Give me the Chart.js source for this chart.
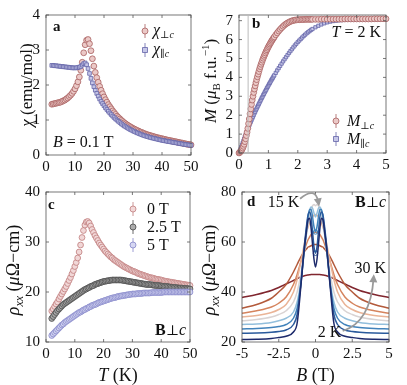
<!DOCTYPE html>
<html><head><meta charset="utf-8">
<script src="https://cdn.jsdelivr.net/npm/chart.js@4.4.1/dist/chart.umd.min.js"></script>
<style>
html,body{margin:0;padding:0;background:#fff;}
#wrap{position:relative;width:407px;height:385px;}
canvas{position:absolute;left:0;top:0;}
</style></head><body>
<div id="wrap">
<canvas id="ca" width="407" height="385"></canvas>
<canvas id="cb" width="407" height="385"></canvas>
<canvas id="cc" width="407" height="385"></canvas>
<canvas id="cd" width="407" height="385"></canvas>
</div>
<script>
// ---- panel a : susceptibility vs T (B = 0.1 T) ----
const tempK = [2,2.5,3,3.5,4,4.5,5,5.5,6,6.5,7,7.5,8,8.5,9,9.5,10,10.5,11,11.5,12,12.5,13,13.5,14,14.5,15,15.5,16,16.5,17,17.5,18,18.5,19,19.5,20,
  20.5,21,21.5,22,22.5,23,23.5,24,24.5,25,25.5,26,26.5,27,27.5,28,28.5,29,29.5,30,
  30.5,31,31.5,32,32.5,33,33.5,34,34.5,35,35.5,36,36.5,37,37.5,38,38.5,39,39.5,40,
  40.5,41,41.5,42,42.5,43,43.5,44,44.5,45,45.5,46,46.5,47,47.5,48,48.5,49,49.5,50];
const chiPerp = [1.45,1.46,1.47,1.48,1.49,1.50,1.51,1.53,1.55,1.57,1.60,1.63,1.67,1.71,1.76,1.82,1.89,1.98,2.09,2.23,
  2.42,2.65,2.92,3.15,3.28,3.30,3.18,2.98,2.75,2.54,2.36,2.21,2.08,1.96,1.85,1.75,1.66,
  1.58,1.51,1.44,1.38,1.32,1.26,1.21,1.16,1.11,1.07,
  1.03,0.99,0.955,0.92,0.89,0.86,0.835,0.81,0.785,0.76,
  0.74,0.72,0.70,0.68,0.66,0.645,0.627,0.61,0.595,0.58,
  0.567,0.555,0.542,0.53,0.517,0.505,0.495,0.485,0.475,0.465,
  0.455,0.445,0.435,0.425,0.418,0.41,0.40,0.39,0.382,0.375,
  0.365,0.355,0.348,0.34,0.33,0.32,0.312,0.305,0.297,0.29];
const chiPar = [2.56,2.56,2.55,2.55,2.54,2.54,2.53,2.53,2.52,2.52,2.51,2.51,2.50,2.50,2.49,2.49,2.49,2.49,2.50,2.51,
  2.53,2.57,2.61,2.63,2.58,2.47,2.33,2.19,2.06,1.95,1.85,1.76,1.68,1.60,1.53,1.47,1.41,
  1.35,1.30,1.25,1.20,1.155,1.11,1.07,1.03,0.995,0.96,
  0.925,0.89,0.86,0.83,0.805,0.78,0.755,0.73,0.71,0.69,
  0.67,0.65,0.632,0.615,0.597,0.58,0.565,0.55,0.537,0.525,
  0.512,0.50,0.49,0.48,0.47,0.46,0.45,0.44,0.43,0.42,
  0.412,0.405,0.397,0.39,0.382,0.375,0.367,0.36,0.352,0.345,
  0.337,0.33,0.322,0.315,0.307,0.30,0.295,0.29,0.282,0.275];
const aTicksX = [0,10,20,30,40,50];
const aTicksY = [0,1,2,3,4];

// ---- panel b : magnetisation vs B (T = 2 K) ----
const fieldB = [0,0.025,0.05,0.075,0.1,0.125,0.15,0.175,0.2,0.225,0.25,0.275,0.3,0.325,0.35,0.375,0.4,0.425,0.45,0.475,
  0.5,0.525,0.55,0.575,0.6,0.625,0.65,0.675,0.7,0.725,0.75,0.775,0.8,0.825,0.85,0.875,0.9,0.925,0.95,0.975,
  1,1.025,1.05,1.075,1.1,1.125,1.15,1.175,1.2,
  1.25,1.3,1.35,1.4,1.45,1.5,1.55,1.6,1.65,1.7,1.75,1.8,1.85,1.9,1.95,2,2.05,2.1,2.15,2.2,2.25,2.3,2.35,2.4,2.45,2.5,
  2.6,2.7,2.8,2.9,3,3.1,3.2,3.3,3.4,3.5,3.6,3.7,3.8,3.9,4,4.1,4.2,4.3,4.4,4.5,4.6,4.7,4.8,4.9,5];
const mPerp = [0,0.03,0.07,0.12,0.18,0.26,0.35,0.46,0.6,0.75,0.92,1.1,1.3,1.55,1.8,2.07,2.33,2.57,2.8,3.0,
  3.2,3.38,3.55,3.72,3.88,4.03,4.17,4.31,4.45,4.57,4.69,4.8,4.91,5.01,5.11,5.2,5.29,5.38,5.46,5.54,
  5.62,5.69,5.76,5.83,5.9,5.96,6.02,6.08,6.14,
  6.25,6.35,6.45,6.54,6.62,6.7,6.77,6.83,6.88,6.92,6.96,6.99,7.01,7.03,7.04,7.05,7.05,7.06,7.06,7.06,7.07,7.07,7.07,7.07,7.07,7.07,
  7.07,7.07,7.08,7.08,7.08,7.08,7.08,7.08,7.08,7.08,7.09,7.09,7.09,7.09,7.09,7.09,7.09,7.09,7.09,7.09,7.1,7.1,7.1,7.1,7.1];
const mPar = [0,0.1,0.2,0.31,0.42,0.53,0.64,0.75,0.86,0.96,1.06,1.16,1.26,1.36,1.46,1.56,1.65,1.74,1.83,1.92,
  2.01,2.1,2.18,2.27,2.35,2.43,2.51,2.59,2.67,2.75,2.83,2.91,2.98,3.06,3.13,3.21,3.28,3.35,3.43,3.5,
  3.57,3.64,3.71,3.78,3.85,3.91,3.98,4.05,4.11,
  4.24,4.37,4.49,4.61,4.73,4.85,4.96,5.07,5.18,5.29,5.39,5.49,5.59,5.69,5.78,5.87,5.95,6.03,6.11,6.19,6.26,6.33,6.39,6.45,6.51,6.56,
  6.65,6.73,6.8,6.86,6.91,6.95,6.98,7.0,7.02,7.03,7.04,7.05,7.05,7.06,7.06,7.06,7.07,7.07,7.07,7.07,7.07,7.08,7.08,7.08,7.08];
const bTicksX = [0,1,2,3,4,5];
const bTicksY = [0,1,2,3,4,5,6,7];
const bMarkerField = 0.31;

// ---- panel c : rho_xx vs T at fixed fields ----
const rho0T = [16.2,16.6,17.1,17.6,18.0,18.6,19.1,19.6,20.1,20.6,21.1,21.7,22.3,22.9,23.6,24.3,25.1,25.9,26.8,28.0,
  29.4,30.9,32.3,33.4,34.0,34.1,33.8,33.2,32.5,31.9,31.3,30.8,30.3,29.8,29.4,29.0,28.6,
  28.2,27.9,27.6,27.3,27.0,26.8,26.5,26.3,26.1,25.9,
  25.7,25.5,25.3,25.1,24.95,24.8,24.65,24.5,24.35,24.2,
  24.1,24.0,23.85,23.7,23.6,23.5,23.4,23.3,23.2,23.1,
  23.0,22.9,22.85,22.8,22.7,22.6,22.55,22.5,22.45,22.4,
  22.3,22.2,22.15,22.1,22.05,22.0,21.95,21.9,21.85,21.8,
  21.75,21.7,21.65,21.6,21.55,21.5,21.45,21.4,21.35,21.3];
const rho25T = [14.7,15.1,15.5,15.9,16.3,16.6,16.9,17.2,17.5,17.7,17.9,18.1,18.3,18.5,18.7,18.9,19.1,19.3,19.5,19.7,
  19.9,20.1,20.3,20.5,20.6,20.8,20.9,21.1,21.2,21.3,21.5,21.6,21.7,21.8,21.9,22.0,22.1,
  22.15,22.2,22.25,22.3,22.35,22.4,22.4,22.4,22.4,22.4,
  22.4,22.4,22.35,22.3,22.25,22.2,22.15,22.1,22.05,22.0,
  21.95,21.9,21.85,21.8,21.75,21.7,21.65,21.6,21.55,21.5,
  21.5,21.5,21.45,21.4,21.35,21.3,21.3,21.3,21.25,21.2,
  21.15,21.1,21.1,21.1,21.05,21.0,20.95,20.9,20.9,20.9,
  20.85,20.8,20.8,20.8,20.75,20.7,20.7,20.7,20.65,20.6];
const rho5T = [11.3,11.6,11.9,12.2,12.5,12.8,13.1,13.4,13.6,13.9,14.1,14.3,14.5,14.7,14.9,15.1,15.3,15.5,15.7,15.9,
  16.0,16.2,16.4,16.5,16.7,16.8,17.0,17.1,17.3,17.4,17.5,17.6,17.8,17.9,18.0,18.1,18.2,
  18.3,18.4,18.5,18.6,18.7,18.8,18.85,18.9,19.0,19.1,
  19.15,19.2,19.25,19.3,19.35,19.4,19.45,19.5,19.55,19.6,
  19.6,19.6,19.65,19.7,19.7,19.7,19.75,19.8,19.8,19.8,
  19.8,19.8,19.85,19.9,19.9,19.9,19.9,19.9,19.9,19.9,
  19.95,20.0,20.0,20.0,20.0,20.0,20.0,20.0,20.0,20.0,
  20.0,20.0,20.0,20.0,20.0,20.0,20.0,20.0,20.0,20.0];
const cTicksX = [0,10,20,30,40,50];
const cTicksY = [10,20,30,40];

// ---- panel d : rho_xx vs B at several temperatures ----
const fieldD = [-5,-4,-3,-2.5,-2,-1.5,-1.25,-1,-0.8,-0.6,-0.5,-0.4,-0.3,-0.2,-0.1,0,0.1,0.2,0.3,0.4,0.5,0.6,0.8,1,1.25,1.5,2,2.5,3,4,5];
const dLabels = ['2 K','5 K','10 K','12.5 K','15 K','17.5 K','20 K','25 K','30 K'];
const dColors = ['#1d2a6b','#2a5a9c','#4283bb','#93bfdc','#d9d3d3','#eab497','#d5845e','#b35a3b','#80262e'];
const rhoB = [
  [21,21.1,21.4,21.8,22.3,24,27.5,42,55,65,69,69.5,65.5,59,53,50,53,59,65.5,69.5,69,65,55,42,27.5,24,22.3,21.8,21.4,21.1,21],
  [23.5,23.6,23.9,24.2,24.8,27,31,43,56,67,71,72,70,64,58,55.5,58,64,70,72,71,67,56,43,31,27,24.8,24.2,23.9,23.6,23.5],
  [25.2,25.4,25.8,26.2,27,29.5,33.5,43,55,66,70.5,73,73,70,66,64,66,70,73,73,70.5,66,55,43,33.5,29.5,27,26.2,25.8,25.4,25.2],
  [27,27.2,27.8,28.5,29.5,32,36,44,54,64,68.5,72.5,74,73.5,71.5,70,71.5,73.5,74,72.5,68.5,64,54,44,36,32,29.5,28.5,27.8,27.2,27],
  [28.5,29,30,31,32.5,36,40,47,55,64,67.5,71,73,74.5,75,74.5,75,74.5,73,71,67.5,64,55,47,40,36,32.5,31,30,29,28.5],
  [30,30.6,31.8,33,35,40,45,52,58,64,66,67.5,69,70,70.8,71,70.8,70,69,67.5,66,64,58,52,45,40,35,33,31.8,30.6,30],
  [31.5,32.5,34,35.5,38,43,47,52,56,59.5,61,62,63,63.5,63.8,64,63.8,63.5,63,62,61,59.5,56,52,47,43,38,35.5,34,32.5,31.5],
  [33.5,35,37.5,40,43,48,51,54,55.8,57.3,58,58.2,58.5,58.8,59,59,59,58.8,58.5,58.2,58,57.3,55.8,54,51,48,43,40,37.5,35,33.5],
  [37.8,39,40.6,41.8,43.2,44.6,45.3,46,46.4,46.7,46.8,46.9,47,47,47,47,47,47,47,46.9,46.8,46.7,46.4,46,45.3,44.6,43.2,41.8,40.6,39,37.8]
];
const dCircled = [1, 2];   // curves with an open marker at B = 0
const dTicksX = [-5,-2.5,0,2.5,5];
const dTicksY = [20,40,60,80];

// ------------------------------------------------------------
const SERIF = "'Liberation Serif', 'DejaVu Serif', serif";
const fnt = (size, style) => (style ? style + ' ' : '') + size + 'px ' + SERIF;
const INK = '#111';

function drawRich(ctx, parts, x, y, align, rot) {
  ctx.save();
  ctx.translate(x, y);
  if (rot) ctx.rotate(rot);
  let w = 0;
  parts.forEach(p => { ctx.font = p.f; w += ctx.measureText(p.t).width; });
  let cx = align === 'center' ? -w / 2 : (align === 'right' ? -w : 0);
  ctx.textAlign = 'left';
  ctx.textBaseline = 'alphabetic';
  parts.forEach(p => {
    ctx.font = p.f;
    ctx.fillStyle = p.c || INK;
    ctx.fillText(p.t, cx, p.dy || 0);
    cx += ctx.measureText(p.t).width;
  });
  ctx.restore();
}

function axis(min, max, ticks, size, isY) {
  return {
    type: 'linear', min: min, max: max,
    grid: {display: false, drawTicks: false},
    border: {display: false},
    afterBuildTicks: s => { s.ticks = ticks.map(v => ({value: v})); },
    afterFit: s => { if (isY) s.width = size; else s.height = size; },
    ticks: {color: INK, font: {family: SERIF, size: 15}, padding: isY ? 6 : 3,
      autoSkip: false, maxRotation: 0, callback: v => String(v)}
  };
}

// box frame with inward ticks on all four sides
const framePlugin = {
  id: 'frame',
  afterDatasetsDraw(chart) {
    const {ctx, chartArea: a, scales} = chart;
    ctx.save();
    ctx.strokeStyle = '#555';
    ctx.lineWidth = 0.8;
    ctx.strokeRect(a.left, a.top, a.right - a.left, a.bottom - a.top);
    ctx.beginPath();
    scales.x.ticks.forEach(t => {
      const p = scales.x.getPixelForValue(t.value);
      ctx.moveTo(p, a.bottom); ctx.lineTo(p, a.bottom - 3);
      ctx.moveTo(p, a.top); ctx.lineTo(p, a.top + 3);
    });
    scales.y.ticks.forEach(t => {
      const p = scales.y.getPixelForValue(t.value);
      ctx.moveTo(a.left, p); ctx.lineTo(a.left + 3, p);
      ctx.moveTo(a.right, p); ctx.lineTo(a.right - 3, p);
    });
    ctx.stroke();
    ctx.restore();
  }
};

function legendMark(ctx, x, y, style, border, fill) {
  ctx.save();
  ctx.strokeStyle = border;
  ctx.lineWidth = 0.8;
  ctx.beginPath(); ctx.moveTo(x, y - 7); ctx.lineTo(x, y + 7); ctx.stroke();
  ctx.fillStyle = fill;
  ctx.beginPath();
  if (style === 'rect') ctx.rect(x - 2.5, y - 2.5, 5, 5);
  else ctx.arc(x, y, 3, 0, Math.PI * 2);
  ctx.fill(); ctx.stroke();
  ctx.restore();
}

function arrow(ctx, p0, pc, p1) {
  ctx.save();
  ctx.strokeStyle = '#9a9a9a';
  ctx.fillStyle = '#9a9a9a';
  ctx.lineWidth = 1.8;
  ctx.beginPath(); ctx.moveTo(p0[0], p0[1]); ctx.quadraticCurveTo(pc[0], pc[1], p1[0], p1[1]); ctx.stroke();
  const ang = Math.atan2(p1[1] - pc[1], p1[0] - pc[0]);
  ctx.translate(p1[0], p1[1]); ctx.rotate(ang);
  ctx.beginPath(); ctx.moveTo(4, 0); ctx.lineTo(-4, -4); ctx.lineTo(-4, 4); ctx.closePath(); ctx.fill();
  ctx.restore();
}

function makePanel(id, box, xs, ys, datasets, extra) {
  const W = 40, H = 22;
  return new Chart(document.getElementById(id), {
    type: 'scatter',
    data: {datasets: datasets},
    options: {
      responsive: false, animation: false, events: [], devicePixelRatio: 1,
      layout: {padding: {left: box.l - W, right: 407 - box.r, top: box.t, bottom: 385 - box.b - H}},
      scales: {x: axis(xs[0], xs[1], xs[2], H, false), y: axis(ys[0], ys[1], ys[2], W, true)},
      plugins: {legend: {display: false}, tooltip: {enabled: false}}
    },
    plugins: [framePlugin, {id: 'extra', afterDraw: extra}]
  });
}

const pts = (xs, ys) => xs.map((x, i) => ({x: x, y: ys[i]}));
const RED = ['#a8605f', '#ebc9c7'];
const BLUE = ['#6465a8', '#c6c7e8'];

// panel a
makePanel('ca', {l: 46, r: 191, t: 15, b: 155}, [0, 50, aTicksX], [0, 4, aTicksY], [
  {data: pts(tempK, chiPar), pointStyle: 'rect', pointRadius: 2.6, borderColor: BLUE[0], backgroundColor: BLUE[1], pointBorderWidth: 0.8, order: 1, clip: 5},
  {data: pts(tempK, chiPerp), pointStyle: 'circle', pointRadius: 2.9, borderColor: RED[0], backgroundColor: RED[1], pointBorderWidth: 0.8, order: 2, clip: 5}
], chart => {
  const ctx = chart.ctx, a = chart.chartArea;
  drawRich(ctx, [{t: 'a', f: fnt(15, 'bold')}], a.left + 7, a.top + 16, 'left');
  legendMark(ctx, a.left + 99, a.top + 16, 'circle', RED[0], RED[1]);
  drawRich(ctx, [{t: 'χ', f: fnt(16, 'italic')}, {t: '⊥', f: fnt(10), dy: 3}, {t: 'c', f: fnt(10, 'italic'), dy: 3}], a.left + 107, a.top + 20, 'left');
  legendMark(ctx, a.left + 99, a.top + 35, 'rect', BLUE[0], BLUE[1]);
  drawRich(ctx, [{t: 'χ', f: fnt(16, 'italic')}, {t: '∥', f: fnt(10), dy: 3}, {t: 'c', f: fnt(10, 'italic'), dy: 3}], a.left + 107, a.top + 39, 'left');
  drawRich(ctx, [{t: 'B', f: fnt(16, 'italic')}, {t: ' = 0.1 T', f: fnt(16)}], a.left + 7, a.bottom - 8, 'left');
  drawRich(ctx, [{t: 'χ', f: fnt(17, 'italic')}, {t: ' (emu/mol)', f: fnt(17)}], 32, (a.top + a.bottom) / 2, 'center', -Math.PI / 2);
});

// panel b
makePanel('cb', {l: 239, r: 386, t: 13, b: 153}, [0, 5, bTicksX], [0, 7.3, bTicksY], [
  {data: pts(fieldB, mPerp), pointStyle: 'circle', pointRadius: 2.9, borderColor: RED[0], backgroundColor: RED[1], pointBorderWidth: 0.8, order: 1, clip: 5},
  {data: pts(fieldB, mPar), pointStyle: 'rect', pointRadius: 2.3, borderColor: BLUE[0], backgroundColor: BLUE[1], pointBorderWidth: 0.8, order: 2, clip: 5}
], chart => {
  const ctx = chart.ctx, a = chart.chartArea, x = chart.scales.x;
  ctx.save();
  ctx.strokeStyle = '#bbb'; ctx.lineWidth = 1;
  ctx.beginPath(); ctx.moveTo(x.getPixelForValue(bMarkerField), a.top); ctx.lineTo(x.getPixelForValue(bMarkerField), a.bottom); ctx.stroke();
  ctx.restore();
  drawRich(ctx, [{t: 'b', f: fnt(15, 'bold')}], a.left + 13, a.top + 13, 'left');
  drawRich(ctx, [{t: 'T', f: fnt(16, 'italic')}, {t: ' = 2 K', f: fnt(16)}], a.right - 5, a.top + 22, 'right');
  legendMark(ctx, a.left + 97, a.top + 106, 'circle', RED[0], RED[1]);
  drawRich(ctx, [{t: 'M', f: fnt(16, 'italic')}, {t: '⊥', f: fnt(10), dy: 3}, {t: 'c', f: fnt(10, 'italic'), dy: 3}], a.left + 108, a.top + 111, 'left');
  legendMark(ctx, a.left + 97, a.top + 124, 'rect', BLUE[0], BLUE[1]);
  drawRich(ctx, [{t: 'M', f: fnt(16, 'italic')}, {t: '∥', f: fnt(10), dy: 3}, {t: 'c', f: fnt(10, 'italic'), dy: 3}], a.left + 108, a.top + 129, 'left');
  drawRich(ctx, [{t: 'M', f: fnt(17, 'italic')}, {t: ' (', f: fnt(17)}, {t: 'μ', f: fnt(17, 'italic')}, {t: 'B', f: fnt(11), dy: 4},
    {t: ' f.u.', f: fnt(17)}, {t: '−1', f: fnt(11), dy: -7}, {t: ')', f: fnt(17)}], 216, (a.top + a.bottom) / 2 - 3, 'center', -Math.PI / 2);
});

// panel c
const cSeries = [
  {name: '0 T', v: rho0T, c: ['#c07e7e', '#f1d7d7']},
  {name: '2.5 T', v: rho25T, c: ['#474747', '#acacac']},
  {name: '5 T', v: rho5T, c: ['#8587c9', '#d6d7f2']}
];
makePanel('cc', {l: 46, r: 190, t: 192, b: 342}, [0, 50, cTicksX], [10, 40, cTicksY],
  cSeries.map((s, i) => ({data: pts(tempK, s.v), pointStyle: 'circle', pointRadius: 2.9, borderColor: s.c[0],
    backgroundColor: s.c[1], pointBorderWidth: 0.8, order: 3 - i, clip: 5})),
  chart => {
    const ctx = chart.ctx, a = chart.chartArea;
    drawRich(ctx, [{t: 'c', f: fnt(15, 'bold')}], a.left + 2, a.top + 17, 'left');
    cSeries.forEach((s, i) => {
      legendMark(ctx, a.left + 87, a.top + 17 + i * 18, 'circle', s.c[0], s.c[1]);
      drawRich(ctx, [{t: s.name, f: fnt(16)}], a.left + 101, a.top + 22 + i * 18, 'left');
    });
    drawRich(ctx, [{t: 'B', f: fnt(16, 'bold')}, {t: '⊥', f: fnt(14)}, {t: 'c', f: fnt(16, 'italic')}], a.right - 4, a.bottom - 7, 'right');
    drawRich(ctx, [{t: 'ρ', f: fnt(18, 'italic')}, {t: 'xx', f: fnt(12, 'italic'), dy: 4}, {t: ' (', f: fnt(18)}, {t: 'μ', f: fnt(18, 'italic')},
      {t: 'Ω−cm)', f: fnt(18)}], 19, (a.top + a.bottom) / 2 + 3, 'center', -Math.PI / 2);
    drawRich(ctx, [{t: 'T', f: fnt(18, 'italic')}, {t: ' (K)', f: fnt(18)}], (a.left + a.right) / 2, 381, 'center');
  });

// panel d
makePanel('cd', {l: 242, r: 389, t: 192, b: 342}, [-5, 5, dTicksX], [20, 80, dTicksY],
  rhoB.map((v, i) => ({label: dLabels[i], data: pts(fieldD, v), showLine: true, borderColor: dColors[i], borderWidth: 1.5,
    cubicInterpolationMode: 'monotone', backgroundColor: 'rgba(0,0,0,0)', pointBorderWidth: 1,
    pointRadius: fieldD.map(b => (b === 0 && dCircled.includes(i)) ? 2.2 : 0), order: i, clip: 2})),
  chart => {
    const ctx = chart.ctx, a = chart.chartArea, x = chart.scales.x, y = chart.scales.y;
    const P = (b, r) => [x.getPixelForValue(b), y.getPixelForValue(r)];
    drawRich(ctx, [{t: 'd', f: fnt(15, 'bold')}], a.left + 5, a.top + 14, 'left');
    drawRich(ctx, [{t: 'B', f: fnt(16, 'bold')}, {t: '⊥', f: fnt(14)}, {t: 'c', f: fnt(16, 'italic')}], a.right - 3, a.top + 15, 'right');
    drawRich(ctx, [{t: '15 K', f: fnt(16)}], P(-1.1, 0)[0], a.top + 15, 'right');
    arrow(ctx, P(-1.05, 77.3), P(0.0, 82.5), P(0.2, 75.8));
    drawRich(ctx, [{t: '30 K', f: fnt(16)}], a.right - 3, y.getPixelForValue(47.6), 'right');
    drawRich(ctx, [{t: '2 K', f: fnt(16)}], P(1.75, 0)[0], y.getPixelForValue(22.2), 'right');
    arrow(ctx, P(1.85, 24.4), P(3.75, 28), P(3.95, 45.5));
    drawRich(ctx, [{t: 'ρ', f: fnt(18, 'italic')}, {t: 'xx', f: fnt(12, 'italic'), dy: 4}, {t: ' (', f: fnt(18)}, {t: 'μ', f: fnt(18, 'italic')},
      {t: 'Ω−cm)', f: fnt(18)}], 215, (a.top + a.bottom) / 2 + 3, 'center', -Math.PI / 2);
    drawRich(ctx, [{t: 'B', f: fnt(18, 'italic')}, {t: ' (T)', f: fnt(18)}], (a.left + a.right) / 2, 381, 'center');
  });
</script>
</body></html>
